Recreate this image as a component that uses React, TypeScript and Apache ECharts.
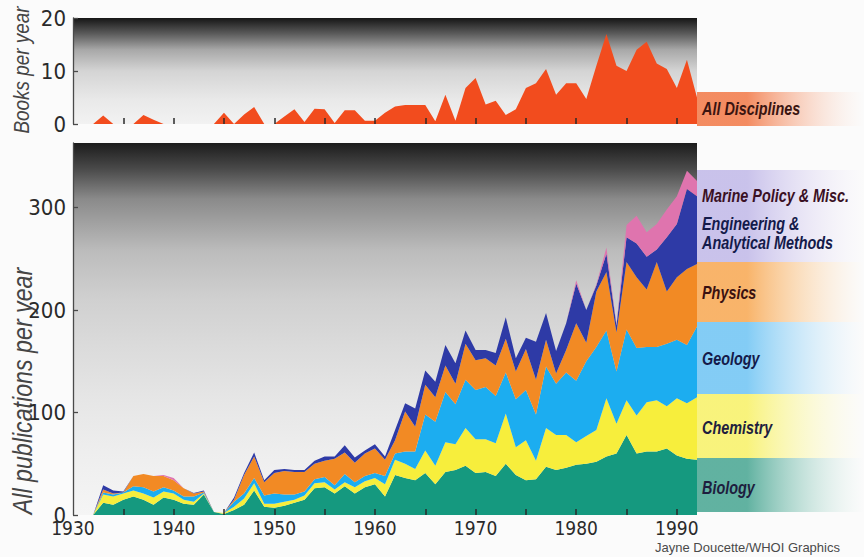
import React, { useEffect, useRef } from 'react';
import * as echarts from 'echarts';

const axisYears = [
  1930, 1931,
  1932, 1933, 1934, 1935, 1936, 1937, 1938, 1939, 1940, 1941,
  1942, 1943, 1944, 1945, 1946, 1947, 1948, 1949, 1950, 1951,
  1952, 1953, 1954, 1955, 1956, 1957, 1958, 1959, 1960, 1961,
  1962, 1963, 1964, 1965, 1966, 1967, 1968, 1969, 1970, 1971,
  1972, 1973, 1974, 1975, 1976, 1977, 1978, 1979, 1980, 1981,
  1982, 1983, 1984, 1985, 1986, 1987, 1988, 1989, 1990, 1991, 1992,
];
// data begin in 1932 (two leading empty years on the axis)
const leadingEmpty = [null, null];

const books = [
  0, 1.6, 0, 0, 0, 1.7, 0.8, 0, 0, 0,
  0, 0, 0, 2.1, 0, 1.8, 3.2, 0, 0, 1.4,
  2.8, 0.4, 2.9, 2.8, 0.2, 2.6, 2.6, 0.6, 0.6, 2.1,
  3.3, 3.6, 3.6, 3.6, 0.5, 5.5, 0.6, 6.8, 8.7, 3.7,
  4.4, 1.7, 2.8, 6.8, 7.7, 10.4, 5.5, 7.7, 7.7, 4.7,
  11, 17, 11, 10, 14, 15.5, 11.4, 10.4, 6.8, 12.1, 5,
];

const biology = [
  0, 12, 10, 15, 18, 15, 10, 17, 15, 11,
  10, 20, 3, 1, 5, 10, 24, 8, 7, 9,
  12, 15, 26, 27, 21, 28, 21, 27, 30, 18,
  39, 36, 34, 41, 30, 42, 44, 48, 41, 42,
  38, 50, 39, 34, 35, 47, 44, 46, 49, 50,
  52, 57, 60, 78, 60, 62, 62, 65, 58, 55, 54,
];

const chemistry = [
  0, 8, 8, 6, 6, 6, 7, 6, 6, 4,
  3, 1, 0, 1, 3, 6, 7, 3, 4, 4,
  3, 4, 5, 5, 4, 4, 6, 6, 6, 12,
  15, 14, 11, 22, 18, 29, 25, 37, 33, 32,
  32, 49, 27, 39, 18, 38, 34, 32, 22, 27,
  31, 57, 29, 34, 37, 48, 50, 41, 56, 54, 61,
];

const geology = [
  0, 2, 2, 1, 4, 6, 6, 4, 3, 3,
  5, 1, 0, 0, 5, 5, 5, 8, 10, 7,
  5, 4, 4, 5, 4, 8, 5, 5, 5, 8,
  6, 12, 17, 35, 43, 49, 39, 47, 48, 51,
  46, 40, 47, 49, 45, 60, 50, 61, 60, 73,
  81, 66, 51, 69, 66, 54, 52, 61, 57, 57, 69,
];

const physics = [
  0, 3, 1, 0, 10, 13, 15, 11, 10, 8,
  3, 1, 0, 0, 2, 18, 21, 13, 20, 23,
  22, 19, 15, 16, 26, 21, 19, 22, 24, 16,
  13, 39, 24, 29, 24, 26, 20, 35, 29, 28,
  30, 33, 27, 40, 34, 26, 10, 22, 56, 18,
  54, 57, 38, 66, 69, 56, 83, 51, 61, 74, 61,
];

const engineering = [
  0, 4, 3, 1, 0, 0, 0, 0, 0, 0,
  0.5, 1, 0, 0, 2, 2, 4, 2, 3, 2,
  2, 2, 3, 4, 2, 7, 5, 3, 4, 3,
  10, 8, 18, 14, 15, 20, 20, 13, 10, 8,
  12, 21, 13, 11, 37, 26, 22, 26, 39, 32,
  6, 18, 7, 24, 33, 32, 12, 53, 52, 78, 66,
];

const marine = [
  0, 0, 0, 0, 0, 0, 0, 1, 2, 0,
  0, 0, 0, 0, 0, 0, 0, 0, 0, 0,
  0, 0, 0, 0, 0, 0, 0, 0, 0, 0,
  0, 0, 0, 0, 0, 0, 0, 0, 0, 0,
  0, 0, 0, 0, 0, 0, 0, 0, 3, 0,
  1, 6, 1, 12, 27, 24, 25, 27, 27, 18, 15,
];

const seriesNames = [
  'Biology',
  'Chemistry',
  'Geology',
  'Physics',
  'Engineering & Analytical Methods',
  'Marine Policy & Misc.',
];
const seriesValues = [biology, chemistry, geology, physics, engineering, marine];
const seriesColors = ['#15997f', '#f7ee3c', '#1cadf0', '#f28a24', '#2e3aa6', '#df74ae'];
const booksColor = '#f24c1e';

const NARROW = "'Liberation Sans Narrow', 'DejaVu Sans Condensed', 'Liberation Sans', sans-serif";
const SANS = "'Liberation Sans', Arial, sans-serif";

function band(x: number, y: number, w: number, h: number, color: string, clear: string) {
  return {
    type: 'rect',
    shape: { x, y, width: w, height: h },
    style: {
      fill: new echarts.graphic.LinearGradient(0, 0, 1, 0, [
        { offset: 0, color },
        { offset: 0.3, color },
        { offset: 1, color: clear },
      ]),
    },
    silent: true,
  };
}

function label(text: string, x: number, y: number, color: string) {
  return {
    type: 'text',
    x,
    y,
    scaleX: 0.8,
    style: {
      text,
      fill: color,
      font: `italic bold 18px ${SANS}`,
      textAlign: 'left',
      textVerticalAlign: 'middle',
    },
    silent: true,
  };
}

function axisName(text: string, x: number, y: number, size: number) {
  return {
    type: 'text',
    x,
    y,
    rotation: Math.PI / 2,
    scaleX: 0.86,
    style: {
      text,
      fill: '#454545',
      font: `italic ${size}px ${SANS}`,
      textAlign: 'center',
      textVerticalAlign: 'middle',
    },
    silent: true,
  };
}

export default function App() {
  const ref = useRef<HTMLDivElement>(null);

  useEffect(() => {
    if (!ref.current) return;
    const chart = echarts.init(ref.current, undefined, { renderer: 'svg' });

    const topGrad = new echarts.graphic.LinearGradient(0, 0, 0, 1, [
      { offset: 0, color: '#161616' },
      { offset: 0.15, color: '#5c5c5c' },
      { offset: 0.3, color: '#a8a8a8' },
      { offset: 0.5, color: '#d4d4d4' },
      { offset: 0.77, color: '#e9e9e9' },
      { offset: 1, color: '#f2f2f2' },
    ]);
    const botGrad = new echarts.graphic.LinearGradient(0, 0, 0, 1, [
      { offset: 0, color: '#1c1c1c' },
      { offset: 0.07, color: '#4a4a4a' },
      { offset: 0.15, color: '#8a8a8a' },
      { offset: 0.29, color: '#bcbcbc' },
      { offset: 0.42, color: '#d0d0d0' },
      { offset: 0.56, color: '#dcdcdc' },
      { offset: 0.69, color: '#e6e6e6' },
      { offset: 0.83, color: '#eeeeee' },
      { offset: 1, color: '#f5f5f5' },
    ]);

    const tickLine = { color: '#2a2a2a', width: 1.5 };
    const xAxisBase = {
      type: 'category',
      data: axisYears.map(String),
      boundaryGap: false,
      z: 10,
      axisLine: { show: false },
      splitLine: { show: false },
      axisTick: {
        show: true,
        inside: true,
        length: 6,
        interval: (i: number, v: string) => i > 0 && Number(v) % 5 === 0,
        lineStyle: tickLine,
      },
    };

    const yAxisBase = {
      type: 'value',
      min: 0,
      z: 10,
      axisLine: { show: true, lineStyle: { color: '#4a4a4a', width: 1.3 } },
      axisTick: { show: true, inside: true, length: 5, lineStyle: { color: '#4a4a4a', width: 1.3 } },
      splitLine: { show: false },
    };

    const option = {
      animation: false,
      backgroundColor: '#fbfbfb',
      grid: [
        { left: 73, top: 18, width: 624, height: 106, show: true, borderWidth: 0, backgroundColor: topGrad },
        { left: 73, top: 143, width: 624, height: 372, show: true, borderWidth: 0, backgroundColor: botGrad },
      ],
      xAxis: [
        { ...xAxisBase, gridIndex: 0, axisLabel: { show: false } },
        {
          ...xAxisBase,
          gridIndex: 1,
          axisLabel: {
            show: true,
            interval: (i: number, v: string) => Number(v) % 10 === 0,
            fontSize: 19,
            fontFamily: NARROW,
            color: '#2a2a2a',
            margin: 3,
          },
        },
      ],
      yAxis: [
        {
          ...yAxisBase,
          gridIndex: 0,
          max: 20,
          interval: 10,
          axisLabel: { fontSize: 22, fontFamily: NARROW, color: '#2a2a2a', margin: 7 },
        },
        {
          ...yAxisBase,
          gridIndex: 1,
          max: 363,
          interval: 100,
          axisLabel: {
            fontSize: 22,
            fontFamily: NARROW,
            color: '#2a2a2a',
            margin: 7,
            showMaxLabel: false,
            formatter: (v: number) => (v % 100 === 0 ? String(v) : ''),
          },
        },
      ],
      series: [
        {
          name: 'All Disciplines',
          type: 'line',
          xAxisIndex: 0,
          yAxisIndex: 0,
          data: [...leadingEmpty, ...books],
          showSymbol: false,
          symbol: 'none',
          lineStyle: { width: 0 },
          areaStyle: { color: booksColor, opacity: 1 },
          silent: true,
        },
        ...seriesNames.map((name, k) => ({
          name,
          type: 'line',
          xAxisIndex: 1,
          yAxisIndex: 1,
          stack: 'pubs',
          data: [...leadingEmpty, ...seriesValues[k]],
          showSymbol: false,
          symbol: 'none',
          lineStyle: { width: 0 },
          areaStyle: { color: seriesColors[k], opacity: 1 },
          silent: true,
        })),
      ],
      graphic: [
        band(697, 92, 167, 34, 'rgba(242,120,70,0.85)', 'rgba(250,210,190,0)'),
        band(697, 170, 167, 92, 'rgba(180,170,228,0.7)', 'rgba(225,215,245,0)'),
        band(697, 262, 167, 60, 'rgba(248,172,90,0.9)', 'rgba(252,220,180,0)'),
        band(697, 322, 167, 72, 'rgba(110,196,244,0.85)', 'rgba(200,230,250,0)'),
        band(697, 394, 167, 64, 'rgba(248,242,110,0.9)', 'rgba(252,250,200,0)'),
        band(697, 458, 167, 54, 'rgba(70,165,145,0.85)', 'rgba(190,225,215,0)'),
        label('All Disciplines', 702, 108, '#3a1410'),
        label('Marine Policy & Misc.', 702, 195, '#3a1024'),
        label('Engineering &', 702, 223, '#141a4a'),
        label('Analytical Methods', 702, 242, '#141a4a'),
        label('Physics', 702, 292, '#3a1010'),
        label('Geology', 702, 358, '#141a4a'),
        label('Chemistry', 702, 427, '#1e1e3e'),
        label('Biology', 702, 487, '#1e1e3e'),
        axisName('Books per year', 21, 70, 22),
        axisName('All publications per year', 22, 391, 27),
        {
          type: 'text',
          x: 655,
          y: 547,
          style: {
            text: 'Jayne Doucette/WHOI Graphics',
            fill: '#4a4a4a',
            font: `13px ${SANS}`,
            textAlign: 'left',
            textVerticalAlign: 'middle',
          },
          silent: true,
        },
      ],
    };

    chart.setOption(option as any);
    return () => chart.dispose();
  }, []);

  return (
    <div
      ref={ref}
      style={{ position: 'fixed', left: 0, top: 0, width: 864, height: 557 }}
    />
  );
}
